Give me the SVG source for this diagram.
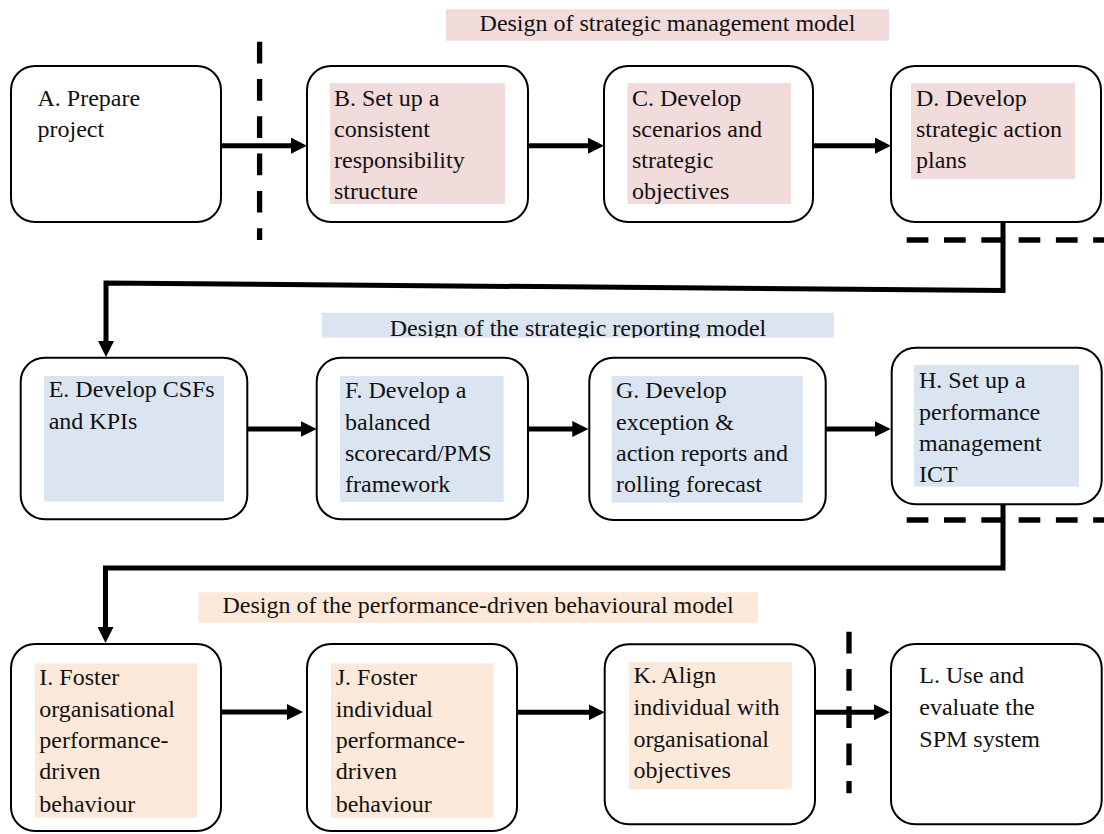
<svg xmlns="http://www.w3.org/2000/svg" width="1104" height="834" viewBox="0 0 1104 834">
  <style>
    .box { fill: #ffffff; stroke: #000000; stroke-width: 2; }
    .red { fill: #f2dbdb; }
    .blue { fill: #dbe5f1; }
    .peach { fill: #fde9d9; }
    .t { font-family: "Liberation Serif", "Times New Roman", serif; font-size: 24px; fill: #111111; }
    .mid { text-anchor: middle; }
    .flow { fill: none; stroke: #000000; stroke-width: 5; stroke-linejoin: miter; }
    .dash { fill: none; stroke: #000000; stroke-width: 5.3; stroke-dasharray: 21.7 15.6; }
  </style>
  <defs>
    <marker id="ah" markerUnits="userSpaceOnUse" markerWidth="16" markerHeight="16" viewBox="0 0 16 16" refX="1" refY="8" orient="auto">
      <path d="M0,0 L16,8 L0,16 z" fill="#000000"/>
    </marker>
    <clipPath id="clipReporting">
      <rect x="321.7" y="312.7" width="512.3" height="25"/>
    </clipPath>
  </defs>

  <!-- phase headings -->
  <g id="heading-management">
    <rect class="red" x="446" y="9.3" width="443" height="31.4"/>
    <text class="t mid" x="667.5" y="31">Design of strategic management model</text>
  </g>
  <g id="heading-reporting">
    <rect class="blue" x="321.7" y="312.7" width="512.3" height="25"/>
    <text class="t mid" x="578" y="336" clip-path="url(#clipReporting)">Design of the strategic reporting model</text>
  </g>
  <g id="heading-behaviour">
    <rect class="peach" x="198.3" y="592.3" width="559.7" height="30.4"/>
    <text class="t mid" x="478" y="613.3">Design of the performance-driven behavioural model</text>
  </g>

  <!-- phase boundaries -->
  <g id="boundaries">
    <line class="dash" x1="259.6" y1="41.7" x2="259.6" y2="240"/>
    <line class="dash" x1="906.7" y1="240" x2="1104" y2="240"/>
    <line class="dash" x1="906.7" y1="520" x2="1104" y2="520"/>
    <line class="dash" x1="849" y1="631.7" x2="849" y2="793.3"/>
  </g>

  <!-- connectors -->
  <g id="connectors">
    <line class="flow" x1="221" y1="145.7" x2="292" y2="145.7" marker-end="url(#ah)"/>
    <line class="flow" x1="528" y1="145.7" x2="589" y2="145.7" marker-end="url(#ah)"/>
    <line class="flow" x1="813" y1="145.7" x2="876" y2="145.7" marker-end="url(#ah)"/>
    <polyline class="flow" points="1003,222 1003,290.5 106,283 106,342" marker-end="url(#ah)"/>
    <line class="flow" x1="247" y1="429" x2="301.7" y2="429" marker-end="url(#ah)"/>
    <line class="flow" x1="528" y1="429" x2="573.3" y2="429" marker-end="url(#ah)"/>
    <line class="flow" x1="825.7" y1="429" x2="875.7" y2="429" marker-end="url(#ah)"/>
    <polyline class="flow" points="1003,504.3 1003,568 105.5,568 105.5,628" marker-end="url(#ah)"/>
    <line class="flow" x1="217" y1="712" x2="288" y2="712" marker-end="url(#ah)"/>
    <line class="flow" x1="517" y1="712.3" x2="589.7" y2="712.3" marker-end="url(#ah)"/>
    <line class="flow" x1="815" y1="712.3" x2="875" y2="712.3" marker-end="url(#ah)"/>
  </g>

  <!-- row 1 -->
  <g id="node-A">
    <rect class="box" x="11" y="66" width="210" height="156" rx="24"/>
    <text class="t" x="37.5" y="106">A. Prepare</text>
    <text class="t" x="37.5" y="137">project</text>
  </g>
  <g id="node-B">
    <rect class="box" x="307" y="66" width="221" height="156" rx="24"/>
    <rect class="red" x="330" y="83" width="175" height="121"/>
    <text class="t" x="334" y="106">B. Set up a</text>
    <text class="t" x="334" y="137">consistent</text>
    <text class="t" x="334" y="168">responsibility</text>
    <text class="t" x="334" y="199">structure</text>
  </g>
  <g id="node-C">
    <rect class="box" x="604" y="66" width="209" height="156" rx="24"/>
    <rect class="red" x="627.5" y="83" width="163.5" height="121"/>
    <text class="t" x="632" y="106">C. Develop</text>
    <text class="t" x="632" y="137">scenarios and</text>
    <text class="t" x="632" y="168">strategic</text>
    <text class="t" x="632" y="199">objectives</text>
  </g>
  <g id="node-D">
    <rect class="box" x="891" y="66" width="210" height="156" rx="24"/>
    <rect class="red" x="911" y="83" width="164" height="96"/>
    <text class="t" x="916" y="106">D. Develop</text>
    <text class="t" x="916" y="137">strategic action</text>
    <text class="t" x="916" y="168">plans</text>
  </g>

  <!-- row 2 -->
  <g id="node-E">
    <rect class="box" x="20.7" y="357.7" width="226.6" height="161.6" rx="24"/>
    <rect class="blue" x="44" y="376" width="180" height="125.7"/>
    <text class="t" x="48.7" y="397">E. Develop CSFs</text>
    <text class="t" x="48.7" y="429">and KPIs</text>
  </g>
  <g id="node-F">
    <rect class="box" x="316.7" y="357.7" width="211.3" height="161.6" rx="24"/>
    <rect class="blue" x="340" y="376" width="163.6" height="126"/>
    <text class="t" x="345" y="398">F. Develop a</text>
    <text class="t" x="345" y="430">balanced</text>
    <text class="t" x="345" y="461">scorecard/PMS</text>
    <text class="t" x="345" y="492.3">framework</text>
  </g>
  <g id="node-G">
    <rect class="box" x="589.3" y="357.7" width="236.4" height="162.3" rx="24"/>
    <rect class="blue" x="611.7" y="376" width="191" height="126.7"/>
    <text class="t" x="616" y="398.3">G. Develop</text>
    <text class="t" x="616" y="430">exception &amp;</text>
    <text class="t" x="616" y="461">action reports and</text>
    <text class="t" x="616" y="492.3">rolling forecast</text>
  </g>
  <g id="node-H">
    <rect class="box" x="891.7" y="347.7" width="210" height="156.6" rx="24"/>
    <rect class="blue" x="914" y="365" width="165" height="121.7"/>
    <text class="t" x="919" y="388.3">H. Set up a</text>
    <text class="t" x="919" y="420">performance</text>
    <text class="t" x="919" y="450.5">management</text>
    <text class="t" x="919" y="481.7">ICT</text>
  </g>

  <!-- row 3 -->
  <g id="node-I">
    <rect class="box" x="11" y="644" width="210" height="187" rx="24"/>
    <rect class="peach" x="35" y="663.3" width="162" height="154.4"/>
    <text class="t" x="39.3" y="685">I. Foster</text>
    <text class="t" x="39.3" y="716.7">organisational</text>
    <text class="t" x="39.3" y="748.3">performance-</text>
    <text class="t" x="39.3" y="779.3">driven</text>
    <text class="t" x="39.3" y="811.7">behaviour</text>
  </g>
  <g id="node-J">
    <rect class="box" x="307" y="644" width="210" height="187" rx="24"/>
    <rect class="peach" x="331" y="663.3" width="162" height="154.4"/>
    <text class="t" x="335.7" y="685">J. Foster</text>
    <text class="t" x="335.7" y="716.7">individual</text>
    <text class="t" x="335.7" y="748.3">performance-</text>
    <text class="t" x="335.7" y="779.3">driven</text>
    <text class="t" x="335.7" y="811.7">behaviour</text>
  </g>
  <g id="node-K">
    <rect class="box" x="604.7" y="644.3" width="210.3" height="180" rx="24"/>
    <rect class="peach" x="628.8" y="662" width="163" height="127.3"/>
    <text class="t" x="633.5" y="683.3">K. Align</text>
    <text class="t" x="633.5" y="715">individual with</text>
    <text class="t" x="633.5" y="746.7">organisational</text>
    <text class="t" x="633.5" y="778.3">objectives</text>
  </g>
  <g id="node-L">
    <rect class="box" x="891" y="644" width="210.7" height="180.3" rx="24"/>
    <text class="t" x="919.3" y="683.3">L. Use and</text>
    <text class="t" x="919.3" y="715">evaluate the</text>
    <text class="t" x="919.3" y="747.3">SPM system</text>
  </g>
</svg>
